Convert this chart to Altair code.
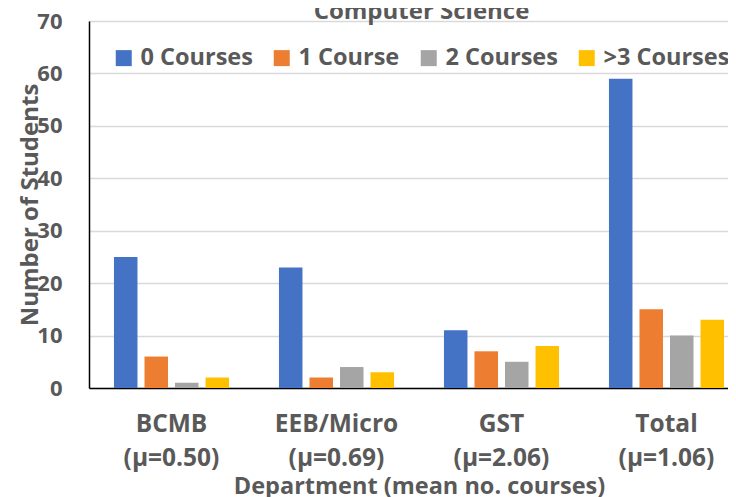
import altair as alt
import pandas as pd

departments = ["BCMB", "EEB/Micro", "GST", "Total"]
means = ["(μ=0.50)", "(μ=0.69)", "(μ=2.06)", "(μ=1.06)"]
series = ["0 Courses", "1 Course", "2 Courses", ">3 Courses"]
zero_courses = [25, 23, 11, 59]
one_course = [6, 2, 7, 15]
two_courses = [1, 4, 5, 10]
three_plus = [2, 3, 8, 13]
colors = ["#4472C4", "#ED7D31", "#A5A5A5", "#FFC000"]

rows = []
order = []
for i, d in enumerate(departments):
    cat = d + "|" + means[i]
    order.append(cat)
    for s, vals in zip(series, [zero_courses, one_course, two_courses, three_plus]):
        rows.append({"Department": cat, "Series": s, "Count": vals[i]})
df = pd.DataFrame(rows)

FONT = "Open Sans"
GRAY = "#595959"

chart = alt.Chart(df).mark_bar().encode(
    x=alt.X(
        "Department:N",
        sort=order,
        scale=alt.Scale(range=[0, 660], paddingInner=0.26, paddingOuter=0.13),
        axis=alt.Axis(
            title="Department (mean no. courses)",
            labelAngle=0,
            labelExpr="split(datum.label, '|')",
            labelFont=FONT, labelFontSize=24.5, labelFontWeight="bold", labelColor=GRAY,
            labelLineHeight=34, labelPadding=24, ticks=False,
            domainColor="black", domainWidth=1.5,
            titleFont=FONT, titleFontSize=23.5, titleFontWeight="bold", titleColor=GRAY,
            titleBaseline="alphabetic", titleY=105,
        ),
    ),
    xOffset=alt.XOffset("Series:N", sort=series,
                        scale=alt.Scale(paddingInner=0.23, paddingOuter=0.115)),
    y=alt.Y(
        "Count:Q",
        scale=alt.Scale(domain=[0, 70]),
        axis=alt.Axis(
            title="Number of Students",
            values=list(range(0, 71, 10)),
            ticks=False, labelPadding=27,
            labelFont=FONT, labelFontSize=22, labelFontWeight="bold", labelColor=GRAY,
            domainColor="black", domainWidth=1.5,
            gridColor="#D9D9D9", gridWidth=1.5,
            titleFont=FONT, titleFontSize=24, titleFontWeight="bold", titleColor=GRAY,
            titleX=-59, titleY=183.5, titleBaseline="middle", titleAngle=270,
        ),
    ),
    color=alt.Color(
        "Series:N", sort=series,
        scale=alt.Scale(domain=series, range=colors),
        legend=alt.Legend(
            title=None, orient="none", direction="horizontal",
            legendX=23, legendY=25, padding=0,
            symbolType="square", symbolSize=256, symbolStrokeWidth=0,
            labelFont=FONT, labelFontSize=23.5, labelFontWeight="bold", labelColor=GRAY,
            labelOffset=5, columnPadding=17,
        ),
    ),
).properties(
    width=639,
    height=367,
    title=alt.TitleParams(
        "Computer Science", font=FONT, fontSize=24, fontWeight="bold", color=GRAY,
        baseline="alphabetic", offset=6, dx=13, dy=39, anchor="middle", frame="group",
    ),
    autosize=alt.AutoSizeParams(type="none"),
    padding={"left": 81, "top": 13, "right": 0, "bottom": 109},
).configure_view(stroke=None)

chart.save("out.html", embed_options={"renderer": "svg", "actions": False})
